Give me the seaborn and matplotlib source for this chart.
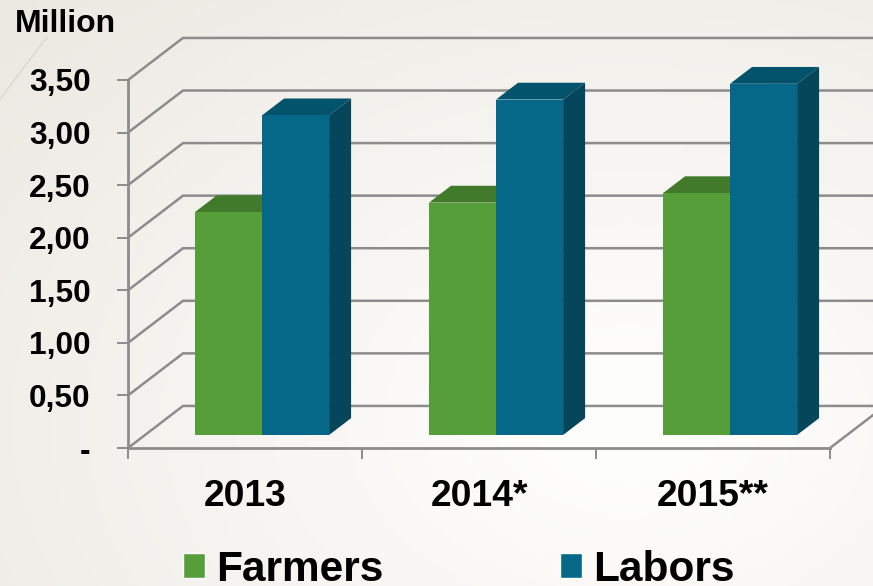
import numpy as np
import pandas as pd
import matplotlib.pyplot as plt
import seaborn as sns

# Data
years = ["2013", "2014*", "2015**"]
farmers = [2.12, 2.21, 2.30]
labors = [3.04, 3.19, 3.34]
y_ticks = [0, 0.5, 1.0, 1.5, 2.0, 2.5, 3.0, 3.5]
y_labels = ["-", "0,50", "1,00", "1,50", "2,00", "2,50", "3,00", "3,50"]

GREEN = "#559e3a"
GREEN_TOP = "#417a2a"
BLUE = "#066889"
BLUE_TOP = "#04536c"
BLUE_SIDE = "#05465a"
LINE = "#8c8c8c"

# 3D look: how far one unit of depth moves things, in data units
DEPTH_X = 55 / 234
DEPTH_Y = 42 / 105
BAR_FRONT = 0.31
BAR_DEPTH = 0.40

sns.set_theme(style="white")
plt.rcParams["font.family"] = ["Liberation Sans", "DejaVu Sans"]
plt.rcParams["font.weight"] = "bold"

df = pd.DataFrame({
    "year": years * 2,
    "value": farmers + labors,
    "series": ["Farmers"] * 3 + ["Labors"] * 3,
})

fig = plt.figure(figsize=(8.73, 5.86), dpi=100)

# Background gradient
bg = fig.add_axes([0, 0, 1, 1], zorder=-1)
xx, yy = np.meshgrid(np.linspace(0, 1, 200), np.linspace(0, 1, 140))
shade = np.clip(np.hypot((xx - 0.72) / 1.0, (yy - 0.72) / 1.05) - 0.1, 0, 1)
base = np.array([0.995, 0.993, 0.988])
edge = np.array([0.90, 0.885, 0.85])
bg.imshow(base + shade[..., None] * (edge - base) * 0.85, aspect="auto", extent=(0, 1, 0, 1), origin="upper")
bg.plot([0.054, 0], [0.937, 0.831], color="#d6d4c9", lw=0.8)
bg.set_xlim(0, 1)
bg.set_ylim(0, 1)
bg.axis("off")

ax = fig.add_axes([128 / 873, 138 / 586, 702 / 873, 368 / 586])
ax.patch.set_alpha(0)

sns.barplot(
    data=df, x="year", y="value", hue="series",
    palette=[GREEN, BLUE], width=0.573, gap=0, saturation=1,
    ax=ax, zorder=3,
)

# Back wall and left wall lines
for v in y_ticks:
    ax.plot(
        [-0.5, -0.5 + DEPTH_X, 2.5 + DEPTH_X],
        [v, v + DEPTH_Y, v + DEPTH_Y],
        color=LINE, lw=1.8, clip_on=False, zorder=1, solid_joinstyle="miter",
    )
# Right edge of the floor
ax.plot([2.5, 2.5 + DEPTH_X], [0, DEPTH_Y], color=LINE, lw=1.8, clip_on=False, zorder=1)

# Push bars back and add top and side faces
bars = [b for b in ax.patches if b.get_height() > 0]
bars = sorted(bars, key=lambda b: b.get_x())
shift_x = BAR_FRONT * DEPTH_X
shift_y = BAR_FRONT * DEPTH_Y
dx = BAR_DEPTH * DEPTH_X
dy = BAR_DEPTH * DEPTH_Y
for b in bars:
    b.set_x(b.get_x() + shift_x)
    b.set_y(shift_y)
    b.set_clip_on(False)
    b.set_linewidth(0)
    x0 = b.get_x()
    x1 = x0 + b.get_width()
    y0 = b.get_y()
    y1 = y0 + b.get_height()
    is_blue = b.get_height() > 2.8
    top = BLUE_TOP if is_blue else GREEN_TOP
    ax.fill([x0, x1, x1 + dx, x0 + dx], [y1, y1, y1 + dy, y1 + dy],
            color=top, lw=0, clip_on=False, zorder=2.5)
    if is_blue:
        ax.fill([x1, x1 + dx, x1 + dx, x1], [y0, y0 + dy, y1 + dy, y1],
                color=BLUE_SIDE, lw=0, clip_on=False, zorder=2.5)

ax.set_xlim(-0.5, 2.5)
ax.set_ylim(0, 3.5)
ax.set_xlabel("")
ax.set_ylabel("")

sns.despine(ax=ax)
for side in ["left", "bottom"]:
    ax.spines[side].set_color(LINE)
    ax.spines[side].set_linewidth(2.0)

ax.set_yticks(y_ticks)
ax.set_yticklabels(y_labels)
ax.tick_params(axis="y", length=8, width=1.4, color=LINE, pad=19, labelsize=22.8, labelcolor="black", left=True)
ax.set_xticks([-0.5, 0.5, 1.5, 2.5])
ax.set_xticklabels([])
ax.set_xticks([0, 1, 2], labels=years, minor=True)
ax.tick_params(axis="x", which="major", length=8, width=1.4, color=LINE, bottom=True)
ax.tick_params(axis="x", which="minor", length=0, pad=22, labelsize=26.8, labelcolor="black")

fig.text(15 / 873, 1 - 24 / 586, "Million", fontsize=23, fontweight="bold", color="black", va="center", ha="left")

handles, labels = ax.get_legend_handles_labels()
ax.legend(
    handles, labels, ncol=2, frameon=False, fontsize=30.5,
    loc="lower left", bbox_to_anchor=(183 / 873, -0.006), bbox_transform=fig.transFigure,
    handlelength=0.52, handleheight=0.52, handletextpad=0.27, columnspacing=4.15,
    borderpad=0, borderaxespad=0, labelcolor="black",
)

fig.savefig("out.png", dpi=100)
